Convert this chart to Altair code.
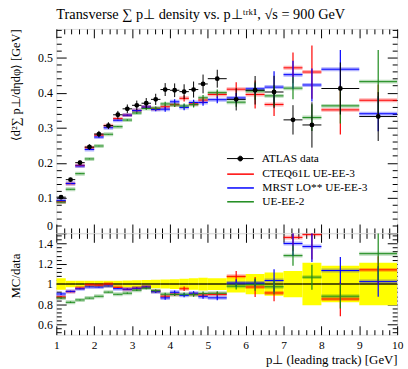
import altair as alt
import pandas as pd

# ---------------- data ----------------
x_lo = [1.0, 1.25, 1.5, 1.75, 2.0, 2.25, 2.5, 2.75, 3.0, 3.25, 3.5, 3.75,
        4.0, 4.25, 4.5, 4.75, 5.0, 5.5, 6.0, 6.5, 7.0, 7.5, 8.0, 9.0]
x_hi = [1.25, 1.5, 1.75, 2.0, 2.25, 2.5, 2.75, 3.0, 3.25, 3.5, 3.75, 4.0,
        4.25, 4.5, 4.75, 5.0, 5.5, 6.0, 6.5, 7.0, 7.5, 8.0, 9.0, 10.0]

data_val = [0.102, 0.152, 0.2005, 0.245, 0.282, 0.306, 0.337, 0.354, 0.364, 0.370, 0.381, 0.409,
            0.407, 0.403, 0.409, 0.425, 0.440, 0.381, 0.407, 0.402, 0.3225, 0.308, 0.412, 0.332]
data_err = [0.0058, 0.0050, 0.0064, 0.0078, 0.0090, 0.0098, 0.0111, 0.0124, 0.0135, 0.0148, 0.0160, 0.0184,
            0.0195, 0.0210, 0.0229, 0.0268, 0.0255, 0.0316, 0.0407, 0.0462, 0.0419, 0.0647, 0.0742, 0.0697]

cteq_val = [0.089, 0.1406, 0.1925, 0.243, 0.279, 0.306, 0.326, 0.336, 0.349, 0.359, 0.354, 0.360,
            0.366, 0.384, 0.368, 0.379, 0.395, 0.410, 0.395, 0.3665, 0.471, 0.459, 0.351, 0.3785]
cteq_err = [0.001, 0.001, 0.001, 0.001, 0.001, 0.001, 0.001, 0.002, 0.003, 0.004, 0.005, 0.006,
            0.007, 0.009, 0.008, 0.009, 0.010, 0.020, 0.040, 0.033, 0.044, 0.076, 0.070, 0.045]
mrst_val = [0.092, 0.141, 0.191, 0.238, 0.2735, 0.300, 0.3215, 0.336, 0.349, 0.359, 0.352, 0.353,
            0.374, 0.358, 0.372, 0.372, 0.380, 0.385, 0.411, 0.416, 0.4515, 0.422, 0.467, 0.340]
mrst_err = [0.001, 0.001, 0.001, 0.001, 0.001, 0.001, 0.001, 0.002, 0.003, 0.004, 0.005, 0.007,
            0.007, 0.008, 0.008, 0.009, 0.010, 0.014, 0.015, 0.045, 0.040, 0.047, 0.055, 0.050]
ueee2_val = [0.088, 0.1246, 0.169, 0.211, 0.248, 0.2815, 0.303, 0.322, 0.342, 0.355, 0.356, 0.368,
             0.365, 0.362, 0.366, 0.3855, 0.400, 0.373, 0.405, 0.391, 0.413, 0.329, 0.3625, 0.4316]
ueee2_err = [0.001, 0.001, 0.001, 0.001, 0.001, 0.001, 0.001, 0.002, 0.003, 0.004, 0.005, 0.006,
             0.006, 0.007, 0.008, 0.008, 0.009, 0.013, 0.025, 0.030, 0.032, 0.038, 0.050, 0.090]

series_names = ["CTEQ61L UE-EE-3", "MRST LO** UE-EE-3", "UE-EE-2"]
series_colors = ["#ff0000", "#0000ff", "#1a8a1a"]
data_label = "ATLAS data"

x_major = [1, 2, 3, 4, 5, 6, 7, 8, 9, 10]
ym_major = [0, 0.1, 0.2, 0.3, 0.4, 0.5]
yr_major = [0.6, 0.8, 1.0, 1.2, 1.4]

title_text = "Transverse \u2211 p\u22a5 density vs. p\u22a5\u1d57\u02b3\u1d4f\u00b9, \u221as = 900 GeV"
ytitle_main = "\u27e8d\u00b2\u2211 p\u22a5/d\u03b7d\u03c6\u27e9 [GeV]"
ytitle_ratio = "MC/data"
xtitle = "p\u22a5 (leading track) [GeV]"

# ---------------- tables ----------------
n = len(x_lo)
df_data = pd.DataFrame({
    "x_lo": x_lo, "x_hi": x_hi,
    "x_mid": [(a + b) / 2 for a, b in zip(x_lo, x_hi)],
    "val": data_val,
    "lo": [v - e for v, e in zip(data_val, data_err)],
    "hi": [v + e for v, e in zip(data_val, data_err)],
    "r": [1.0] * n,
    "r_lo": [1 - e / v for v, e in zip(data_val, data_err)],
    "r_hi": [1 + e / v for v, e in zip(data_val, data_err)],
    "label": [data_label] * n,
})

rows = []
for name, vals, errs in zip(series_names, [cteq_val, mrst_val, ueee2_val], [cteq_err, mrst_err, ueee2_err]):
    for i in range(n):
        d = data_val[i]
        rows.append(dict(series=name, x_lo=x_lo[i], x_hi=x_hi[i], x_mid=(x_lo[i] + x_hi[i]) / 2,
                         val=vals[i], lo=vals[i] - errs[i], hi=vals[i] + errs[i],
                         r=vals[i] / d, r_lo=(vals[i] - errs[i]) / d, r_hi=(vals[i] + errs[i]) / d))
df_mc = pd.DataFrame(rows)

# ---------------- styling helpers ----------------
FONT = "Liberation Serif"
W = 345
HM = 206.5
HR = 102.5

XS = alt.Scale(domain=[1, 10], nice=False, zero=False)
YMS = alt.Scale(domain=[0, 0.582], nice=False, zero=False)
YRS = alt.Scale(domain=[0.5, 1.5], nice=False, zero=False)


def minor(lo, hi, step, majors):
    out = []
    k = 0
    while True:
        v = round(lo + k * step, 4)
        if v > hi + 1e-9:
            break
        if all(abs(v - m) > 1e-6 for m in majors):
            out.append(v)
        k += 1
    return out


x_minor = minor(1, 10, 0.2, x_major)
ym_minor = minor(0.02, 0.58, 0.02, ym_major)
yr_minor = minor(0.52, 1.48, 0.04, yr_major)


def ax(orient, values, size, labels=False, **kw):
    args = dict(orient=orient, values=values, tickSize=size, offset=-size, domain=False,
                grid=False, labels=labels, ticks=True, tickColor="black", tickWidth=1,
                title=None, labelFlush=False, labelFont=FONT, labelFontSize=12,
                labelColor="black", labelPadding=4, format="~r",
                titleFont=FONT, titleFontSize=12.5, titleFontWeight="normal", titleColor="black")
    args.update(kw)
    return alt.Axis(**args)


mc_color = alt.Scale(domain=series_names, range=series_colors)

legend_mc = alt.Legend(orient="none", legendX=180.5, legendY=141, title=None,
                       symbolType="M-2.7,0H2.7", symbolSize=100, symbolStrokeWidth=1.5,
                       symbolOpacity=1, labelFont=FONT, labelFontSize=11.5, labelColor="black",
                       labelOffset=16, rowPadding=2, padding=0)
legend_data = alt.Legend(orient="none", legendX=180.5, legendY=125.5, title=None,
                         symbolType="M-2.7,0H2.7M-0.48,0A0.48,0.48,0,1,1,0.48,0A0.48,0.48,0,1,1,-0.48,0Z",
                         symbolSize=100, symbolStrokeColor="black", symbolStrokeWidth=1,
                         symbolFillColor="black", labelFont=FONT, labelFontSize=11.5,
                         labelColor="black", labelOffset=16, padding=0)

# ---------------- main panel ----------------
base_mc = alt.Chart(df_mc)
base_d = alt.Chart(df_data)

zero_baseline = {"condition": {"test": "datum.value === 0", "value": "bottom"}, "value": "middle"}

m1 = base_mc.mark_rule(strokeWidth=1, clip=True).encode(
    x=alt.X("x_lo:Q", scale=XS, axis=ax("bottom", x_major, 9)),
    x2="x_hi:Q",
    y=alt.Y("val:Q", scale=YMS, axis=ax("left", ym_major, 10, labels=True, title=ytitle_main,
                                        titleAnchor="end", titlePadding=15.5,
                                        labelBaseline=zero_baseline)),
    stroke=alt.Stroke("series:N", scale=mc_color, legend=legend_mc),
)
m2 = base_mc.mark_rule(strokeWidth=4, opacity=0.3, clip=True).encode(
    x=alt.X("x_lo:Q", scale=XS, axis=ax("bottom", x_minor, 5)),
    x2="x_hi:Q",
    y=alt.Y("val:Q", scale=YMS, axis=ax("left", ym_minor, 5)),
    stroke=alt.Stroke("series:N", scale=mc_color, legend=legend_mc),
)
m3 = base_mc.mark_rule(strokeWidth=1.2, clip=True).encode(
    x=alt.X("x_mid:Q", scale=XS, axis=ax("top", x_major, 9)),
    y=alt.Y("lo:Q", scale=YMS, axis=ax("right", ym_major, 10)),
    y2="hi:Q",
    stroke=alt.Stroke("series:N", scale=mc_color, legend=legend_mc),
)
m4 = base_d.mark_rule(strokeWidth=1, color="black", clip=True).encode(
    x=alt.X("x_lo:Q", scale=XS, axis=ax("top", x_minor, 5)),
    x2="x_hi:Q",
    y=alt.Y("val:Q", scale=YMS, axis=ax("right", ym_minor, 5)),
)
m5 = base_d.mark_rule(strokeWidth=1, color="black", clip=True).encode(
    x=alt.X("x_mid:Q", scale=XS, axis=None),
    y=alt.Y("lo:Q", scale=YMS, axis=None),
    y2="hi:Q",
)
m6 = base_d.mark_point(shape="circle", filled=True, size=24, opacity=1, clip=True).encode(
    x=alt.X("x_mid:Q", scale=XS, axis=None),
    y=alt.Y("val:Q", scale=YMS, axis=None),
    fill=alt.Fill("label:N", scale=alt.Scale(domain=[data_label], range=["black"]), legend=legend_data),
)

main = alt.layer(m2, m1, m3, m4, m5, m6).resolve_axis(x="independent", y="independent").properties(
    width=W, height=HM,
    title=alt.TitleParams(title_text, anchor="start", frame="group", font=FONT, fontSize=14.5,
                          fontWeight="normal", color="black", offset=6),
)

# ---------------- ratio panel ----------------
r1 = base_d.mark_rect(color="#ffff00", clip=True).encode(
    x=alt.X("x_lo:Q", scale=XS, axis=ax("bottom", x_major, 9, labels=True, title=xtitle,
                                        titleAnchor="end", titlePadding=3, labelFontSize=11.5,
                                        labelPadding=5, titleFontSize=13)),
    x2="x_hi:Q",
    y=alt.Y("r_lo:Q", scale=YRS, axis=ax("left", yr_major, 10, labels=True, title=ytitle_ratio,
                                         titleAnchor="end", titlePadding=15.5, titleY=20,
                                         titleFontSize=13)),
    y2="r_hi:Q",
)
r2 = base_d.mark_rule(strokeWidth=2, color="black", opacity=0.65, clip=True).encode(
    x=alt.X("x_lo:Q", scale=XS, axis=ax("bottom", x_minor, 5)),
    x2="x_hi:Q",
    y=alt.Y("r:Q", scale=YRS, axis=ax("left", yr_minor, 5)),
)
r3 = base_mc.mark_rule(strokeWidth=4, opacity=0.3, clip=True).encode(
    x=alt.X("x_lo:Q", scale=XS, axis=ax("top", x_major, 9)),
    x2="x_hi:Q",
    y=alt.Y("r:Q", scale=YRS, axis=ax("right", yr_major, 10)),
    stroke=alt.Stroke("series:N", scale=mc_color, legend=None),
)
r4 = base_mc.mark_rule(strokeWidth=1, clip=True).encode(
    x=alt.X("x_lo:Q", scale=XS, axis=ax("top", x_minor, 5)),
    x2="x_hi:Q",
    y=alt.Y("r:Q", scale=YRS, axis=ax("right", yr_minor, 5)),
    stroke=alt.Stroke("series:N", scale=mc_color, legend=None),
)
r5 = base_mc.mark_rule(strokeWidth=1.2, clip=True).encode(
    x=alt.X("x_mid:Q", scale=XS, axis=None),
    y=alt.Y("r_lo:Q", scale=YRS, axis=None),
    y2="r_hi:Q",
    stroke=alt.Stroke("series:N", scale=mc_color, legend=None),
)

ratio = alt.layer(r1, r2, r3, r4, r5).resolve_axis(x="independent", y="independent").properties(
    width=W, height=HR)

chart = alt.vconcat(main, ratio, spacing=0, bounds="flush").resolve_scale(
    x="independent", y="independent", stroke="independent", fill="independent"
).configure_view(stroke="black", strokeWidth=1).configure(
    padding={"left": 8, "top": 4, "right": 4, "bottom": 0}, background="white"
)

chart.save("out.html", embed_options={"renderer": "svg", "actions": False})
